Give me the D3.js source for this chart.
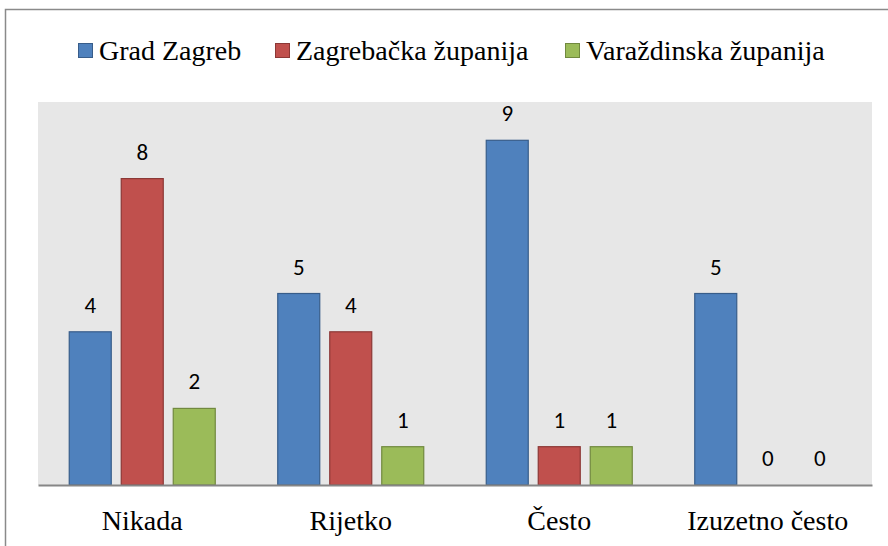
<!DOCTYPE html>
<html>
<head>
<meta charset="utf-8">
<script src="https://cdn.jsdelivr.net/npm/d3@7"></script>
<style>
  body { margin: 0; background: #fff; }
</style>
</head>
<body>
<div id="chart"></div>
<script>
// categories and series
var categories = ["Nikada", "Rijetko", "Često", "Izuzetno često"];
var seriesNames = ["Grad Zagreb", "Zagrebačka županija", "Varaždinska županija"];
var gradZagreb = [4, 5, 9, 5];
var zagrebacka = [8, 4, 1, 0];
var varazdinska = [2, 1, 1, 0];
var seriesValues = [gradZagreb, zagrebacka, varazdinska];

var fills = ["#4f81bd", "#c0504d", "#9bbb59"];
var strokes = ["#385d8a", "#8c3836", "#71893f"];
var serif = "'Times New Roman', 'Liberation Serif', 'DejaVu Serif', serif";
var sans = "Carlito, 'Open Sans', sans-serif";

var width = 888, height = 546;
var plot = {"left": 38, "right": 872, "top": 102, "bottom": 485};

var svg = d3.select("#chart").append("svg")
  .attr("width", width).attr("height", height);

// outer chart border (only top and left are in view)
svg.append("rect")
  .attr("x", 5.5).attr("y", 9.5)
  .attr("width", 1000).attr("height", 1000)
  .attr("fill", "none").attr("stroke", "#8a8a8a").attr("stroke-width", 1.5);

svg.append("rect")
  .attr("x", plot.left).attr("y", plot.top)
  .attr("width", plot.right - plot.left).attr("height", plot.bottom - plot.top)
  .attr("fill", "#e7e7e7");

var x = d3.scaleBand().domain(categories).range([plot.left, plot.right]);
var barW = 42, gap = 10;
var groupW = barW * 3 + gap * 2;
var y = d3.scaleLinear().domain([0, 10]).range([plot.bottom, plot.top]);

var rows = [];
seriesValues.forEach(function(vals, s){
  vals.forEach(function(v, i){
    rows.push({"cat": categories[i], "s": s, "v": v});
  });
});
function barX(d){
  return x(d.cat) + (x.bandwidth() - groupW) / 2 + d.s * (barW + gap);
}

svg.append("g").selectAll("rect")
  .data(rows.filter(d => d.v > 0))
  .enter()
  .append("rect")
  .attr("x", barX)
  .attr("y", d => y(d.v))
  .attr("width", barW)
  .attr("height", d => y(0) - y(d.v))
  .attr("fill", d => fills[d.s])
  .attr("stroke", d => strokes[d.s])
  .attr("stroke-width", 1.2);

svg.append("g").selectAll("text")
  .data(rows)
  .enter()
  .append("text")
  .attr("x", d => barX(d) + barW / 2)
  .attr("y", d => y(d.v) - 19)
  .attr("text-anchor", "middle")
  .attr("font-family", sans)
  .attr("font-size", 23)
  .attr("fill", "#000")
  .text(d => d.v);

// category axis
var axis = d3.axisBottom(x).tickSize(0).tickPadding(0);
var axisG = svg.append("g").attr("transform", "translate(0," + plot.bottom + ")").call(axis)
  .attr("font-family", serif)
  .attr("font-size", 28);
axisG.select(".domain").attr("stroke", "#868686").attr("stroke-width", 2);
axisG.selectAll("text")
  .attr("y", 45)
  .attr("dy", 0)
  .attr("fill", "#000");

// legend
var legendX = [78, 275, 565];
var legend = svg.append("g").selectAll("g")
  .data(seriesNames)
  .enter()
  .append("g")
  .attr("transform", (d, i) => "translate(" + legendX[i] + ",0)");
legend.append("rect")
  .attr("x", 0.5).attr("y", 43.5)
  .attr("width", 14).attr("height", 14)
  .attr("fill", (d, i) => fills[i])
  .attr("stroke", (d, i) => strokes[i]);
legend.append("text")
  .attr("x", 21).attr("y", 60)
  .attr("font-family", serif)
  .attr("font-size", 28)
  .attr("fill", "#000")
  .text(d => d);
</script>
</body>
</html>
